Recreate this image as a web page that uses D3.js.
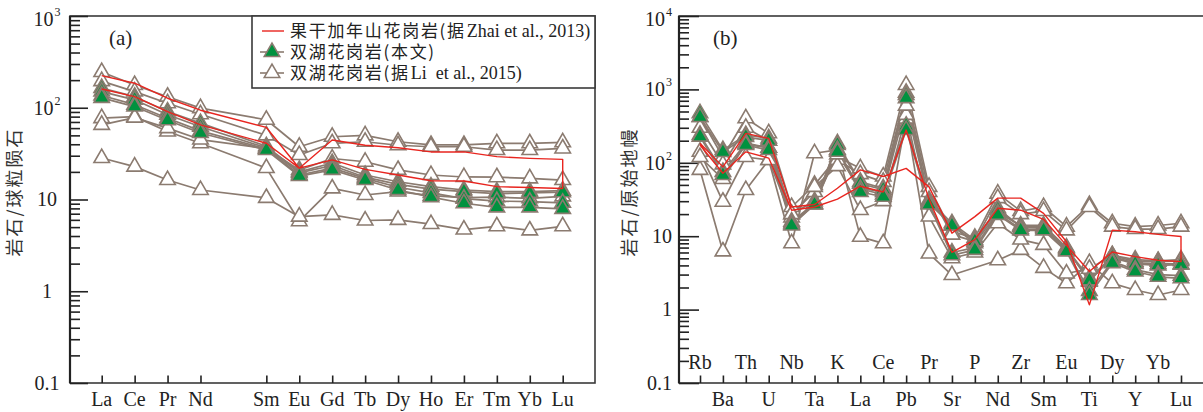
<!DOCTYPE html>
<html><head><meta charset="utf-8">
<script src="https://cdn.jsdelivr.net/npm/d3@7"></script>
<style>
body{margin:0;background:#fff;}
svg{display:block;}
</style></head><body>
<svg id="chart" width="1203" height="412"></svg>
<script>
// ---------- DATA ----------
// Panel (a): chondrite-normalised REE
const reeSlots = ["La","Ce","Pr","Nd","Pm","Sm","Eu","Gd","Tb","Dy","Ho","Er","Tm","Yb","Lu"];
const reeElements = ["La","Ce","Pr","Nd","Sm","Eu","Gd","Tb","Dy","Ho","Er","Tm","Yb","Lu"];
const reeYTicks = [0.1, 1, 10, 100, 1000];
const reeYTickLabels = ["0.1", "1", "10", "10^2", "10^3"];

const reeZhaiA = [224,185,127,94,61,21.9,44.5,39,36.7,33,33,29.3,28.1,27.4];
const reeZhaiB = [160,132,90.6,65,41,22,27,21.3,18.5,16,15.9,13.8,13.5,13.2];

const reeThis1 = [164,132,91,68,38,20,25,18.5,15.6,13.8,12.7,12.2,12.2,12.5];
const reeThis2 = [150,122,84,62,36.5,19.5,23.5,17.5,14.6,13,12.2,11.6,11.8,12];
const reeThis3 = [128,103,73,53,34.6,18,21,16.3,12.7,10.6,9.1,8.2,8.2,7.9];
const reeThis4 = [136,108,77,56,35.5,18.5,22,17,13.6,11.8,10.2,9.6,9.5,9.2];

const reeLi1 = [245,177,132,99,74,37.6,48.3,50,42.6,39.3,39.3,41,41,42];
const reeLi2 = [195,150,112,85,50,30.5,41,42.6,39,37.6,37.6,34.6,34.6,36];
const reeLi3 = [77,80,55,41,22,5.8,13.2,11.2,12.2,11,10.5,10.6,10.3,10.8];
const reeLi4 = [65,78,60,45,36,21,28,25.8,21,18.5,17.6,17.5,17,16.3];
const reeLi5 = [28.3,22.8,16.3,12.7,10.4,6.5,6.8,5.9,6.0,5.4,4.7,5.1,4.6,5.1];

// Panel (b): primitive-mantle-normalised trace elements
const pmElements = ["Rb","Ba","Th","U","Nb","Ta","K","La","Ce","Pb","Pr","Sr","P","Nd","Zr","Sm","Eu","Ti","Dy","Y","Yb","Lu"];
const pmYTicks = [0.1, 1, 10, 100, 1000, 10000];
const pmYTickLabels = ["0.1", "1", "10", "10^2", "10^3", "10^4"];

const pmZhaiA = [185,88,252,215,25,27,45,80,65,84,47,11,18.5,33,33,20.5,8.4,1.16,12.1,11.5,10.6,9.9];
const pmZhaiB = [175,72,141,116,22.6,25,32,48,40,280,32,6,9,24,22.6,17,7.5,3.3,6.1,5.26,4.7,4.5];

const pmThis1 = [472,149,239,215,15.8,28,184,55,45,839,31,15,8.9,24,13.5,13.5,6.8,2.67,5.26,4.3,4.2,4.2];
const pmThis2 = [420,140,225,200,15,28,175,52,43,760,30,14,8.5,23,13.5,13,6.6,2.5,5.1,4.2,4.0,4.1];
const pmThis3 = [227,68,175,149,14,27,141,40,34.5,280,27,5.5,6.5,19.5,12,12,6.2,1.58,4.3,3.3,2.8,2.67];
const pmThis4 = [240,75,185,160,14.5,27,150,44,37,320,28,6,7,20.5,12.5,12.5,6.4,1.8,4.5,3.5,3.0,2.9];

const pmLi1 = [420,120,404,252,25,50,120,84,65,1148,47,11.5,9.5,38,22,25,13.5,26.6,15,13.5,14,15];
const pmLi2 = [300,95,300,200,20,40,110,70,55,900,40,10.5,8.5,33,20,22,12,25,13.5,12.5,12.5,13.5];
const pmLi3 = [80,6.2,42.6,109,8,135,150,9.8,8,400,5.8,2.96,null,4.7,6.5,3.7,2.28,4.3,2.28,1.85,1.58,1.85];
const pmLi4 = [141,29.5,120,109,18,47,90,22.7,30,450,18.5,5,6,15,9,7.6,3.1,3.6,5.5,4.8,4.6,4.8];
const pmLi5 = [120,60,180,160,20,30,130,45,40,600,28,14,8,21,14,14,7,2.4,5.5,4.5,4.5,4.6];

const legendLabels = ["果干加年山花岗岩(据Zhai et al., 2013)", "双湖花岗岩(本文)", "双湖花岗岩(据Li  et al., 2015)"];

// ---------- STYLE ----------
const GRAY = "#8b7b70", GREEN = "#00923f", RED = "#e8251f", INK = "#222";
const SERIF = "'Liberation Serif','Times New Roman',serif";
const CJK = "'Noto Sans CJK SC','Noto Sans CJK JP',sans-serif";
const tri = d3.symbol(d3.symbolTriangle).size(104);

const svg = d3.select("#chart");

function minorTicks(domain) {
  const out = [];
  const lo = Math.round(Math.log10(domain[0])), hi = Math.round(Math.log10(domain[1]));
  for (let e = lo; e < hi; e++) for (let k = 2; k <= 9; k++) out.push(k * Math.pow(10, e));
  return out;
}

function yLabel(g, x, y, label, anchor) {
  const t = g.append("text").attr("x", x).attr("y", y + 6.8)
    .attr("text-anchor", anchor).attr("font-family", SERIF).attr("font-size", 20).attr("fill", INK);
  if (label.includes("^")) {
    const [b, e] = label.split("^");
    t.append("tspan").text(b);
    t.append("tspan").attr("font-size", 12).attr("dy", -10).attr("dx", 1).text(e);
  } else t.text(label);
}

function drawPanel(opt) {
  const g = svg.append("g");
  const {x, y, left, right, top, bottom, elements, zhai, thisW, li} = opt;
  const line = d3.line().x(d => x(d.e)).y(d => y(d.v));
  const pts = arr => elements.map((e, i) => ({e, v: arr[i]})).filter(d => d.v != null);

  // frame
  g.append("rect").attr("x", left).attr("y", top).attr("width", right - left).attr("height", bottom - top)
    .attr("fill", "none").attr("stroke", "#3a3a3a").attr("stroke-width", 1.6);
  g.append("line").attr("x1", left).attr("x2", left).attr("y1", top).attr("y2", bottom)
    .attr("stroke", INK).attr("stroke-width", 2.2);

  // y ticks
  const yMaj = g.append("g").attr("transform", `translate(${left},0)`)
    .call(d3.axisRight(y).tickValues(opt.yTicks).tickSize(opt.majLen).tickFormat(""));
  const yMin = g.append("g").attr("transform", `translate(${left},0)`)
    .call(d3.axisRight(y).tickValues(minorTicks(y.domain())).tickSize(10).tickFormat(""));
  // x ticks
  const xAx = g.append("g").attr("transform", `translate(0,${bottom})`)
    .call(d3.axisBottom(x).tickValues(elements).tickSize(-7.5).tickFormat(""));
  [yMaj, yMin, xAx].forEach(a => {
    a.select(".domain").remove();
    a.selectAll("line").attr("stroke", INK).attr("stroke-width", 1.6);
  });

  opt.yTicks.forEach((v, i) => yLabel(g, opt.labelX, y(v) + (i === opt.yTicks.length - 1 ? 3 : 0), opt.yTickLabels[i], opt.labelAnchor));

  // series: gray lines first
  const all = li.concat(thisW);
  all.forEach(s => g.append("path").attr("d", line(pts(s))).attr("fill", "none")
    .attr("stroke", GRAY).attr("stroke-width", 1.7).attr("stroke-linejoin", "round"));
  li.forEach(s => g.append("g").selectAll("path").data(pts(s)).join("path")
    .attr("transform", d => `translate(${x(d.e)},${y(d.v)})`).attr("d", tri)
    .attr("fill", "#fff").attr("stroke", GRAY).attr("stroke-width", 1.6));
  thisW.forEach(s => g.append("g").selectAll("path").data(pts(s)).join("path")
    .attr("transform", d => `translate(${x(d.e)},${y(d.v)})`).attr("d", tri)
    .attr("fill", GREEN).attr("stroke", GRAY).attr("stroke-width", 1.6));
  // red: sample A forward then sample B back
  const redPts = pts(zhai[0]).concat(pts(zhai[1]).reverse());
  g.append("path").attr("d", line(redPts)).attr("fill", "none")
    .attr("stroke", RED).attr("stroke-width", 1.4).attr("stroke-linejoin", "round");

  // panel letter
  g.append("text").attr("x", opt.letterX).attr("y", 45).attr("font-family", SERIF)
    .attr("font-size", 21).attr("fill", INK).text(opt.letter);

  // y title
  g.append("text").attr("transform", `translate(${opt.titleX},192) rotate(-90)`)
    .attr("text-anchor", "middle").attr("font-family", CJK).attr("font-size", 18)
    .attr("letter-spacing", 2).attr("fill", "#333").text(opt.title);
  return g;
}

// ---------- PANEL A ----------
const xA = d3.scalePoint().domain(reeSlots).range([101.7, 562.7]);
const yA = d3.scaleLog().domain([0.1, 1000]).range([383, 16]);
const gA = drawPanel({
  x: xA, y: yA, left: 70, right: 595, top: 16, bottom: 383, elements: reeElements,
  zhai: [reeZhaiA, reeZhaiB], thisW: [reeThis1, reeThis2, reeThis4, reeThis3],
  li: [reeLi1, reeLi2, reeLi3, reeLi4, reeLi5],
  yTicks: reeYTicks, yTickLabels: reeYTickLabels, majLen: 18, labelX: 47, labelAnchor: "middle",
  letter: "(a)", letterX: 109, title: "岩石/球粒陨石", titleX: 21
});
gA.selectAll(null).data(reeElements).join("text")
  .attr("x", d => xA(d)).attr("y", 406).attr("text-anchor", "middle")
  .attr("font-family", SERIF).attr("font-size", 20).attr("fill", INK).text(d => d);

// legend
const lg = gA.append("g");
lg.append("rect").attr("x", 252).attr("y", 16).attr("width", 343).attr("height", 72)
  .attr("fill", "#fff").attr("stroke", "#3a3a3a").attr("stroke-width", 1.6);
const rows = [31, 52, 73];
lg.append("line").attr("x1", 262).attr("x2", 284).attr("y1", rows[0]).attr("y2", rows[0]).attr("stroke", RED).attr("stroke-width", 1.4);
[1, 2].forEach(i => {
  lg.append("line").attr("x1", 260).attr("x2", 284).attr("y1", rows[i]).attr("y2", rows[i]).attr("stroke", GRAY).attr("stroke-width", 1.6);
  lg.append("path").attr("transform", `translate(272,${rows[i]})`).attr("d", tri)
    .attr("fill", i === 1 ? GREEN : "#fff").attr("stroke", GRAY).attr("stroke-width", 1.6);
});
legendLabels.forEach((lab, i) => {
  const m = lab.match(/^([^A-Za-z]*)(.*)$/);
  const t1 = lg.append("text").attr("x", 290).attr("y", rows[i] + 6).attr("font-family", CJK)
    .attr("font-size", 17).attr("letter-spacing", 1.7).attr("fill", INK).text(m[1]);
  const w = t1.node().getComputedTextLength();
  if (m[2]) lg.append("text").attr("x", 290 + w + 1).attr("y", rows[i] + 6).attr("font-family", SERIF)
    .attr("font-size", 18).attr("fill", INK).style("white-space", "pre").text(m[2]);
});

// ---------- PANEL B ----------
const xB = d3.scalePoint().domain(pmElements).range([700, 1181]);
const yB = d3.scaleLog().domain([0.1, 10000]).range([383, 16]);
const gB = drawPanel({
  x: xB, y: yB, left: 679, right: 1210, top: 16, bottom: 383, elements: pmElements,
  zhai: [pmZhaiA, pmZhaiB], thisW: [pmThis1, pmThis2, pmThis4, pmThis3],
  li: [pmLi1, pmLi2, pmLi3, pmLi4, pmLi5],
  yTicks: pmYTicks, yTickLabels: pmYTickLabels, majLen: 20, labelX: 672, labelAnchor: "end",
  letter: "(b)", letterX: 713, title: "岩石/原始地幔", titleX: 636
});
gB.selectAll(null).data(pmElements).join("text")
  .attr("x", d => xB(d)).attr("y", (d, i) => i % 2 === 0 ? 369 : 406).attr("text-anchor", "middle")
  .attr("font-family", SERIF).attr("font-size", 20).attr("fill", INK).text(d => d);
</script>
</body></html>
